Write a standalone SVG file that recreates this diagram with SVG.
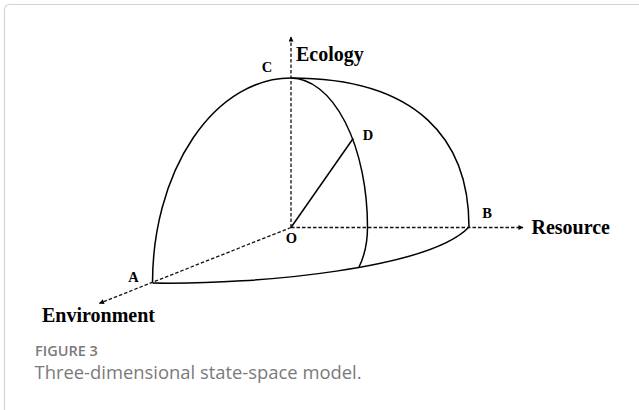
<svg xmlns="http://www.w3.org/2000/svg" width="639" height="410" viewBox="0 0 639 410">
  <style>
    .axis { fill: none; stroke: #111; stroke-width: 1.3; stroke-dasharray: 3.5 2; }
    .arc { fill: none; stroke: #000; stroke-width: 1.5; }
    .pt { font-family: "Liberation Serif", "Times New Roman", serif; font-weight: bold; font-size: 14.5px; fill: #000; }
    .ax { font-family: "Liberation Serif", "Times New Roman", serif; font-weight: bold; font-size: 20px; fill: #000; }
    .cap1 { font-family: "Open Sans", "Liberation Sans", sans-serif; font-weight: 600; font-size: 14.5px; fill: #7a7a7a; }
    .cap2 { font-family: "Open Sans", "Liberation Sans", sans-serif; font-size: 18.4px; fill: #7a7a7a; }
  </style>
  <defs>
    <marker id="arr" viewBox="0 0 10 10" refX="9" refY="5" markerWidth="6" markerHeight="5" markerUnits="userSpaceOnUse" orient="auto">
      <path d="M0,0 L10,5 L0,10 Z" fill="#000"/>
    </marker>
  </defs>
  <rect width="639" height="410" fill="#fff"/>
  <path d="M4.5,700 V10 Q4.5,4.5 10,4.5 H700" fill="none" stroke="#d4d4d4" stroke-width="1.2"/>

  <g id="surfaces">
    <path id="arc-CA" class="arc" d="M152.5,283 A138.5,205 0 0 1 291,78"/>
    <path id="arc-CB" class="arc" d="M291,78 C418,78 469,140 469,227"/>
    <path id="arc-AB" class="arc" d="M152.5,283 C260,285 430,268 469,227"/>
    <path id="arc-CD" class="arc" d="M291,78 A77,149 0 0 1 367.5,227 Q367.5,250 359,267"/>
  </g>

  <g id="connectors">
    <line id="axis-ecology" class="axis" x1="291" y1="227.5" x2="291" y2="37" marker-end="url(#arr)"/>
    <line id="axis-resource" class="axis" x1="291" y1="227.5" x2="523" y2="227.5" marker-end="url(#arr)"/>
    <line id="axis-environment" class="axis" x1="291" y1="227.5" x2="99.5" y2="303.3" marker-end="url(#arr)"/>
    <line id="OD" class="arc" x1="291" y1="227.5" x2="353.3" y2="138.3"/>
  </g>

  <g id="node-C"><text class="pt" x="267" y="72" text-anchor="middle">C</text></g>
  <g id="node-D"><text class="pt" x="368" y="140" text-anchor="middle">D</text></g>
  <g id="node-O"><text class="pt" x="291.5" y="243" text-anchor="middle">O</text></g>
  <g id="node-A"><text class="pt" x="133.5" y="282" text-anchor="middle">A</text></g>
  <g id="node-B"><text class="pt" x="487" y="218" text-anchor="middle">B</text></g>

  <g id="label-ecology"><text class="ax" x="296" y="61">Ecology</text></g>
  <g id="label-resource"><text class="ax" x="531.5" y="234">Resource</text></g>
  <g id="label-environment"><text class="ax" x="42" y="322">Environment</text></g>

  <g id="caption">
    <text class="cap1" x="35" y="356">FIGURE 3</text>
    <text class="cap2" x="34.5" y="379">Three-dimensional state-space model.</text>
  </g>
</svg>
